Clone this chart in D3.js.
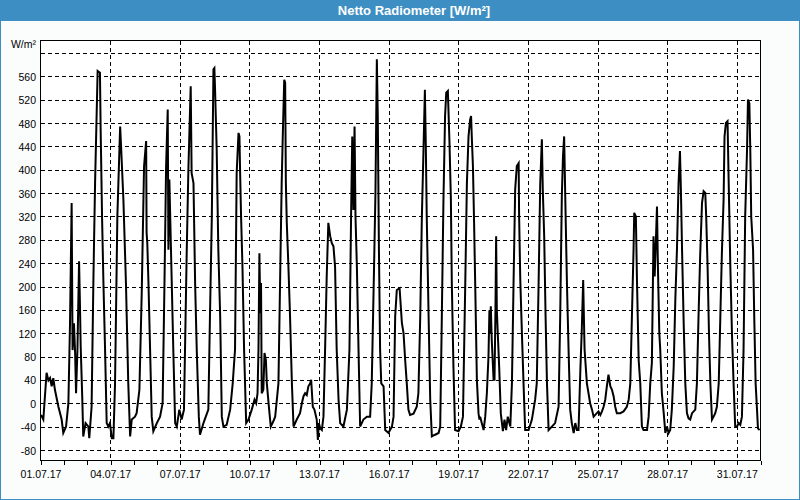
<!DOCTYPE html>
<html><head><meta charset="utf-8">
<script src="https://cdn.jsdelivr.net/npm/d3@7"></script>
<style>body{margin:0;background:#fff}svg{display:block}</style>
</head><body><svg id="c" width="800" height="500"></svg>
<script>
const chartTitle = "Netto Radiometer [W/m²]";
const unitLabel = "W/m²";
const startDate = new Date(2017, 6, 1);
const endDate = new Date(2017, 7, 1);
// time in days since 01.07.17 00:00
const dayOffsets = [
0.00,0.10,0.24,0.32,0.39,0.46,0.53,0.60,0.75,0.89,0.96,
1.08,1.18,1.25,1.32,1.36,1.42,1.47,1.51,1.57,1.64,1.68,1.71,1.78,1.82,1.92,
2.04,2.08,2.18,2.26,2.33,2.44,2.54,2.57,2.63,2.69,2.76,2.83,2.90,2.97,
3.05,3.12,3.19,3.29,3.41,3.45,3.55,3.66,3.76,3.84,3.91,
4.05,4.12,4.24,4.34,4.44,4.53,4.55,4.58,4.63,4.70,4.77,4.84,4.99,
5.13,5.24,5.32,5.39,5.46,5.49,5.53,5.60,5.70,5.78,5.85,5.96,
6.06,6.16,6.28,6.35,6.45,6.49,6.57,6.64,6.71,6.80,6.85,
7.00,7.10,7.21,7.28,7.36,7.43,7.47,7.50,7.57,7.64,7.72,7.79,7.86,
8.00,8.15,8.26,8.36,8.43,8.51,8.55,8.58,8.62,8.68,8.75,8.84,8.94,
9.08,9.20,9.27,9.33,9.37,9.41,9.45,9.48,9.51,9.58,9.63,9.69,9.73,9.83,9.90,
10.01,10.09,10.23,10.30,10.37,10.42,10.48,10.52,10.55,10.59,10.66,10.73,10.81,10.88,
11.02,11.16,11.24,11.31,11.38,11.45,11.52,11.60,11.64,11.71,11.78,11.88,11.93,11.97,
12.03,12.10,12.17,12.24,12.31,12.38,12.46,12.53,12.60,12.67,12.74,12.82,12.89,
13.03,13.18,13.29,13.36,13.41,13.46,13.51,13.55,13.61,13.68,13.75,13.89,
14.04,14.18,14.25,14.35,14.41,14.47,14.51,14.56,14.61,14.66,14.76,14.83,14.97,
15.12,15.19,15.26,15.33,15.45,15.55,15.62,15.69,15.76,15.83,15.90,
16.05,16.19,16.26,16.34,16.41,16.48,16.54,16.58,16.62,16.70,16.77,16.84,16.98,
17.13,17.20,17.27,17.34,17.41,17.46,17.53,17.60,17.66,17.70,17.77,17.84,17.99,
18.09,18.18,18.28,18.35,18.42,18.49,18.53,18.56,18.61,18.66,18.72,18.78,18.85,18.89,18.92,18.99,
19.07,19.14,19.21,19.28,19.32,19.35,19.38,19.42,19.50,19.54,19.58,19.61,19.64,19.68,19.74,19.81,19.90,19.97,
20.04,20.11,20.22,20.29,20.36,20.43,20.50,20.58,20.60,20.65,20.72,20.79,20.86,
21.01,21.15,21.29,21.36,21.44,21.51,21.58,21.62,21.68,21.74,21.80,21.87,
22.01,22.15,22.30,22.37,22.44,22.49,22.54,22.59,22.66,22.73,22.80,22.87,22.95,
23.02,23.09,23.16,23.24,23.30,23.36,23.39,23.42,23.48,23.52,23.59,23.66,23.74,23.81,23.88,23.95,
24.02,24.10,24.17,24.24,24.31,24.38,24.45,24.53,24.60,24.67,24.74,24.81,24.96,
25.10,25.24,25.32,25.39,25.46,25.53,25.56,25.63,25.68,25.75,25.82,25.89,25.96,
26.11,26.18,26.25,26.32,26.39,26.44,26.48,26.54,26.58,26.64,26.68,26.75,26.83,26.90,26.97,
27.04,27.11,27.18,27.26,27.33,27.40,27.47,27.53,27.57,27.62,27.69,27.76,27.83,27.90,27.97,
28.05,28.19,28.26,28.33,28.40,28.48,28.55,28.62,28.66,28.72,28.78,28.84,28.91,28.98,
29.05,29.12,29.20,29.27,29.34,29.41,29.45,29.51,29.58,29.63,29.70,29.77,29.84,29.91,29.99,
30.06,30.13,30.20,30.27,30.34,30.42,30.46,30.52,30.56,30.60,30.68,30.73,30.79,30.85,30.89,30.96
];
const netRadiation = [
-19,-27,53,40,44,30,44,24,-5,-27,-50,
-39,1,138,344,92,138,87,18,92,244,167,98,7,-56,-33,
-39,-59,-5,218,378,570,567,470,321,207,93,-33,-39,-33,
-59,-59,35,321,475,441,350,207,35,-56,-27,
-22,-16,24,190,407,450,293,275,207,93,-22,-47,-33,
-22,1,207,407,504,264,384,264,93,-33,-39,-10,
-27,-10,264,401,544,395,378,207,93,-22,-53,
-33,-22,-10,150,321,573,575,538,435,264,150,-22,-39,
-36,-10,35,93,395,464,458,395,321,235,93,-33,-27,
-10,7,1,18,93,258,155,207,18,24,87,75,35,-10,-39,
-30,-22,35,207,378,464,555,550,378,310,235,150,35,-39,
-27,-16,1,13,18,15,30,35,41,-5,-10,-27,-62,-33,
-42,-45,-22,93,218,310,287,275,270,235,93,7,-33,
-39,-10,93,321,458,332,475,321,235,93,-39,-27,
-22,-22,35,235,361,590,493,264,93,35,30,-45,-50,
-39,-22,150,195,198,138,121,75,35,-10,-19,
-17,-5,18,150,321,435,538,441,321,150,7,-56,-53,
-50,-39,150,350,493,533,536,447,350,207,64,-45,-47,
-39,-22,207,378,458,487,493,458,407,310,178,41,-16,-27,-22,-33,
-45,-22,18,81,160,121,167,110,41,41,160,287,160,121,64,-16,-47,-27,
-45,-22,-39,35,207,367,407,412,321,212,121,35,-45,
-45,-27,7,35,207,378,453,367,287,150,35,-45,
-39,-33,-5,150,355,424,458,350,207,93,-10,-33,-50,
-33,-45,-45,60,127,212,150,93,58,35,18,1,-10,-22,-19,-16,
-13,-19,-13,-5,7,30,50,30,24,13,-5,-16,-16,
-13,-5,7,35,150,264,327,321,207,75,35,-39,-45,
-45,-22,35,70,287,218,264,338,235,121,93,18,-16,-50,-39,
-50,-45,-10,64,178,264,378,433,367,264,138,35,-16,-25,-27,
-16,-10,35,150,253,344,364,361,321,235,121,35,-27,-22,
-16,-5,35,150,264,350,458,481,484,378,235,121,35,-39,-39,
-33,-36,-22,93,321,435,521,515,435,321,264,150,35,-10,-42,-45
];
const yTickValues = [-80,-40,0,40,80,120,160,200,240,280,320,360,400,440,480,520,560,600];
const yTickLabels = ["-80","-40","0","40","80","120","160","200","240","280","320","360","400","440","480","520","560",""];
const xLabelDays = [0,3,6,9,12,15,18,21,24,27,30];

const svg = d3.select("#c");
const W = 800, H = 500;
const font = "'Liberation Sans', Arial, sans-serif";
const blue = "#3d8fc3";

svg.append("rect").attr("x",0.5).attr("y",0.5).attr("width",W-1).attr("height",H-1)
  .attr("fill","#fbfdfd").attr("stroke",blue);
svg.append("rect").attr("x",0).attr("y",0).attr("width",W).attr("height",21).attr("fill",blue);
svg.append("text").attr("x",414).attr("y",15).attr("text-anchor","middle")
  .attr("fill","#fff").attr("font-family",font).attr("font-weight","bold").attr("font-size",13)
  .text(chartTitle);

const x = d3.scaleTime().domain([startDate,endDate]).range([41,760.5]);
const y = d3.scaleLinear().domain([-80,600]).range([450.5,53.5]);
const dayMs = 86400000;
const toDate = d => new Date(startDate.getTime() + d*dayMs);
const data = dayOffsets.map((d,i)=>({t:toDate(d), v:netRadiation[i]}));

svg.append("rect").attr("x",40.5).attr("y",40.5).attr("width",720).attr("height",420).attr("fill","#ffffff");

const gGrid = svg.append("g").attr("stroke","#000").attr("stroke-width",1).attr("stroke-dasharray","4,3");
yTickValues.forEach(v=>{
  const yy = Math.round(y(v)-0.5)+0.5;
  gGrid.append("line").attr("x1",41).attr("x2",760).attr("y1",yy).attr("y2",yy);
});
xLabelDays.filter(d=>d>0).forEach(d=>{
  const xx = Math.round(x(toDate(d))-0.5)+0.5;
  gGrid.append("line").attr("x1",xx).attr("x2",xx).attr("y1",41).attr("y2",460);
});

const gy = svg.append("g").attr("font-family",font).attr("font-size",10.5).attr("fill","#000").attr("text-anchor","end");
yTickValues.forEach((v,i)=>{
  gy.append("text").attr("x",36).attr("y",y(v)+4).text(yTickLabels[i]);
});
svg.append("text").attr("x",36).attr("y",48).attr("text-anchor","end").attr("font-family",font)
  .attr("font-size",10.5).text(unitLabel);

const xAxis = d3.axisBottom(x).tickValues(d3.range(0,32).map(toDate)).tickSize(4).tickFormat("");
const gx = svg.append("g").attr("transform","translate(0,460.5)").call(xAxis);
gx.select(".domain").remove();
gx.selectAll("line").attr("stroke","#000").attr("shape-rendering","crispEdges");
const fmt = d3.timeFormat("%d.%m.%y");
const gl = svg.append("g").attr("font-family",font).attr("font-size",10.5).attr("text-anchor","middle");
xLabelDays.forEach(d=>{
  gl.append("text").attr("x",x(toDate(d))).attr("y",478).text(fmt(toDate(d)));
});

const line = d3.line().x(d=>x(d.t)).y(d=>y(d.v));
svg.append("path").datum(data).attr("d",line).attr("fill","none").attr("stroke","#000")
  .attr("stroke-width",2).attr("stroke-linejoin","miter");

svg.append("rect").attr("x",40.5).attr("y",40.5).attr("width",720).attr("height",420)
  .attr("fill","none").attr("stroke","#000").attr("stroke-width",1);
</script></body></html>
